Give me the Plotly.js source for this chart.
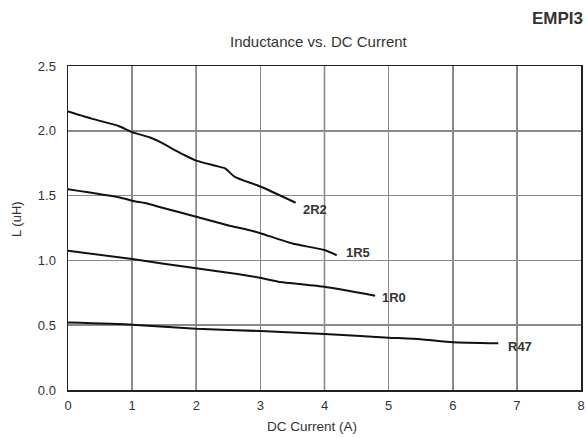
<!DOCTYPE html>
<html><head><meta charset="utf-8">
<script src="https://cdn.plot.ly/plotly-3.0.1.min.js"></script>
<style>html,body{margin:0;padding:0;background:#fff}#chart{width:587px;height:438px}</style>
</head><body><div id="chart"></div>
<script>
const x2R2 = [0, 0.4, 0.79, 1.0, 1.28, 1.45, 1.65, 2.0, 2.3, 2.45, 2.6, 3.0, 3.55];
const y2R2 = [2.15, 2.09, 2.037, 1.99, 1.948, 1.91, 1.855, 1.77, 1.73, 1.71, 1.645, 1.57, 1.445];
const x1R5 = [0, 0.79, 1.0, 1.25, 1.44, 2.0, 2.5, 2.8, 3.0, 3.5, 4.0, 4.19];
const y1R5 = [1.549, 1.487, 1.461, 1.437, 1.41, 1.337, 1.27, 1.237, 1.21, 1.13, 1.08, 1.04];
const x1R0 = [0, 1.0, 2.0, 2.5, 2.95, 3.28, 4.0, 4.79];
const y1R0 = [1.075, 1.01, 0.939, 0.905, 0.87, 0.836, 0.797, 0.728];
const xR47 = [0, 1, 2, 3, 4, 5, 5.5, 6, 6.71];
const yR47 = [0.52, 0.504, 0.473, 0.455, 0.432, 0.404, 0.391, 0.368, 0.36];
const seriesNames = ["2R2", "1R5", "1R0", "R47"];
const labelShift = [[5, -7], [7, 3], [5, -2], [8, -3]];
const xTicks = [0, 1, 2, 3, 4, 5, 6, 7, 8];
const xDarkGrid = [2, 4, 6];
const yTicks = [0.0, 0.5, 1.0, 1.5, 2.0, 2.5];

const FONT = 'Liberation Sans, Arial, sans-serif';
const xs = [x2R2, x1R5, x1R0, xR47];
const ys = [y2R2, y1R5, y1R0, yR47];
const traces = xs.map((x, i) => ({
  x: x, y: ys[i], type: 'scatter', mode: 'lines', name: seriesNames[i],
  line: {color: '#111', width: 2, shape: 'spline', smoothing: 0.5},
  hoverinfo: 'skip', showlegend: false
}));

const annotations = seriesNames.map((n, i) => ({
  x: xs[i][xs[i].length - 1], y: ys[i][ys[i].length - 1], xref: 'x', yref: 'y',
  text: '<b>' + n + '</b>', showarrow: false, xanchor: 'left', yanchor: 'middle',
  xshift: labelShift[i][0], yshift: labelShift[i][1],
  font: {family: FONT, size: 13, color: '#333'}
}));
annotations.push({
  xref: 'paper', yref: 'paper', x: (319 - 68) / 513, y: (390 - 41) / 324,
  text: 'Inductance vs. DC Current', showarrow: false, xanchor: 'center', yanchor: 'middle',
  font: {family: FONT, size: 15, color: '#333'}
});
annotations.push({
  xref: 'paper', yref: 'paper', x: (530 - 68) / 513, y: (390 - 18.5) / 324,
  text: '<b>EMPI3</b>', showarrow: false, xanchor: 'left', yanchor: 'middle',
  font: {family: FONT, size: 17, color: '#333'}
});
annotations.push({
  xref: 'paper', yref: 'paper', x: (312 - 68) / 513, y: (390 - 426) / 324,
  text: 'DC Current (A)', showarrow: false, xanchor: 'center', yanchor: 'middle',
  font: {family: FONT, size: 13.5, color: '#333'}
});
annotations.push({
  xref: 'paper', yref: 'paper', x: (16 - 68) / 513, y: (390 - 219) / 324,
  text: 'L (uH)', showarrow: false, textangle: -90, xanchor: 'center', yanchor: 'middle',
  font: {family: FONT, size: 13, color: '#333'}
});

const shapes = xDarkGrid.map(v => ({
  type: 'line', xref: 'x', yref: 'paper', x0: v, x1: v, y0: 0, y1: 1,
  line: {color: '#1a1a1a', width: 1.3}, layer: 'below'
}));

const layout = {
  width: 587, height: 438,
  margin: {l: 68, r: 6, t: 66, b: 48, pad: 0},
  paper_bgcolor: '#fff', plot_bgcolor: '#fff',
  font: {family: FONT, size: 13, color: '#333'},
  xaxis: {range: [0, 8], tickvals: xTicks, ticktext: xTicks.map(String), ticks: '',
    showgrid: true, gridcolor: '#8a8a8a', gridwidth: 1.5, zeroline: false,
    showline: true, linecolor: '#222', linewidth: 1.5, mirror: true,
    tickfont: {size: 13, color: '#333'}, ticklabelstandoff: 3, fixedrange: true},
  yaxis: {range: [0, 2.5], tickvals: yTicks, ticktext: yTicks.map(v => v.toFixed(1)), ticks: '',
    showgrid: true, gridcolor: '#8a8a8a', gridwidth: 1.5, zeroline: false,
    showline: true, linecolor: '#222', linewidth: 1.5, mirror: true,
    tickfont: {size: 13, color: '#333'}, ticklabelstandoff: 8, fixedrange: true},
  shapes: shapes,
  annotations: annotations,
  showlegend: false
};
Plotly.newPlot('chart', traces, layout, {staticPlot: true, displayModeBar: false});
</script></body></html>
